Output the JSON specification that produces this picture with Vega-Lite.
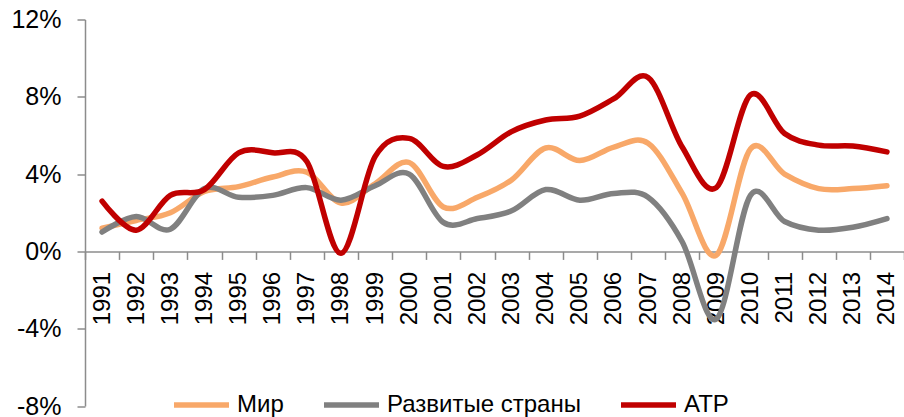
{
  "$schema": "https://vega.github.io/schema/vega-lite/v6.json",
  "width": 819,
  "height": 386.5,
  "autosize": {"type": "none"},
  "padding": {"left": 85, "top": 19.5, "right": 0, "bottom": 11},
  "background": "white",
  "config": {"view": {"stroke": null}, "font": "Liberation Sans"},
  "data": {
    "values": [
      {"year": "1991", "series": "Мир", "value": 1.2},
      {"year": "1992", "series": "Мир", "value": 1.6},
      {"year": "1993", "series": "Мир", "value": 2.0},
      {"year": "1994", "series": "Мир", "value": 3.1},
      {"year": "1995", "series": "Мир", "value": 3.35},
      {"year": "1996", "series": "Мир", "value": 3.85},
      {"year": "1997", "series": "Мир", "value": 4.1},
      {"year": "1998", "series": "Мир", "value": 2.5},
      {"year": "1999", "series": "Мир", "value": 3.5},
      {"year": "2000", "series": "Мир", "value": 4.6},
      {"year": "2001", "series": "Мир", "value": 2.3},
      {"year": "2002", "series": "Мир", "value": 2.8},
      {"year": "2003", "series": "Мир", "value": 3.7},
      {"year": "2004", "series": "Мир", "value": 5.35},
      {"year": "2005", "series": "Мир", "value": 4.7},
      {"year": "2006", "series": "Мир", "value": 5.4},
      {"year": "2007", "series": "Мир", "value": 5.6},
      {"year": "2008", "series": "Мир", "value": 3.0},
      {"year": "2009", "series": "Мир", "value": -0.2},
      {"year": "2010", "series": "Мир", "value": 5.3},
      {"year": "2011", "series": "Мир", "value": 4.0},
      {"year": "2012", "series": "Мир", "value": 3.25},
      {"year": "2013", "series": "Мир", "value": 3.25},
      {"year": "2014", "series": "Мир", "value": 3.4},
      {"year": "1991", "series": "Развитые страны", "value": 1.0},
      {"year": "1992", "series": "Развитые страны", "value": 1.8},
      {"year": "1993", "series": "Развитые страны", "value": 1.15},
      {"year": "1994", "series": "Развитые страны", "value": 3.25},
      {"year": "1995", "series": "Развитые страны", "value": 2.8},
      {"year": "1996", "series": "Развитые страны", "value": 2.9},
      {"year": "1997", "series": "Развитые страны", "value": 3.3},
      {"year": "1998", "series": "Развитые страны", "value": 2.65},
      {"year": "1999", "series": "Развитые страны", "value": 3.4},
      {"year": "2000", "series": "Развитые страны", "value": 4.0},
      {"year": "2001", "series": "Развитые страны", "value": 1.5},
      {"year": "2002", "series": "Развитые страны", "value": 1.7},
      {"year": "2003", "series": "Развитые страны", "value": 2.1},
      {"year": "2004", "series": "Развитые страны", "value": 3.2},
      {"year": "2005", "series": "Развитые страны", "value": 2.65},
      {"year": "2006", "series": "Развитые страны", "value": 3.0},
      {"year": "2007", "series": "Развитые страны", "value": 2.8},
      {"year": "2008", "series": "Развитые страны", "value": 0.5},
      {"year": "2009", "series": "Развитые страны", "value": -3.5},
      {"year": "2010", "series": "Развитые страны", "value": 2.9},
      {"year": "2011", "series": "Развитые страны", "value": 1.55},
      {"year": "2012", "series": "Развитые страны", "value": 1.1},
      {"year": "2013", "series": "Развитые страны", "value": 1.25},
      {"year": "2014", "series": "Развитые страны", "value": 1.7},
      {"year": "1991", "series": "АТР", "value": 2.6},
      {"year": "1992", "series": "АТР", "value": 1.1},
      {"year": "1993", "series": "АТР", "value": 2.9},
      {"year": "1994", "series": "АТР", "value": 3.2},
      {"year": "1995", "series": "АТР", "value": 5.1},
      {"year": "1996", "series": "АТР", "value": 5.1},
      {"year": "1997", "series": "АТР", "value": 4.65},
      {"year": "1998", "series": "АТР", "value": -0.1},
      {"year": "1999", "series": "АТР", "value": 4.9},
      {"year": "2000", "series": "АТР", "value": 5.85},
      {"year": "2001", "series": "АТР", "value": 4.4},
      {"year": "2002", "series": "АТР", "value": 5.0},
      {"year": "2003", "series": "АТР", "value": 6.2},
      {"year": "2004", "series": "АТР", "value": 6.8},
      {"year": "2005", "series": "АТР", "value": 7.0},
      {"year": "2006", "series": "АТР", "value": 7.9},
      {"year": "2007", "series": "АТР", "value": 9.0},
      {"year": "2008", "series": "АТР", "value": 5.4},
      {"year": "2009", "series": "АТР", "value": 3.3},
      {"year": "2010", "series": "АТР", "value": 8.1},
      {"year": "2011", "series": "АТР", "value": 6.1},
      {"year": "2012", "series": "АТР", "value": 5.5},
      {"year": "2013", "series": "АТР", "value": 5.45},
      {"year": "2014", "series": "АТР", "value": 5.15}
    ]
  },
  "mark": {"type": "line", "interpolate": "cardinal", "tension": 0, "strokeWidth": 5.5, "strokeCap": "round", "strokeJoin": "round"},
  "encoding": {
    "x": {
      "field": "year", "type": "ordinal", "sort": null,
      "scale": {"paddingInner": 0, "paddingOuter": 0},
      "axis": {
        "title": null, "offset": -154.6, "labelAngle": 270, "labelFontSize": 24,
        "labelColor": "black", "tickBand": "extent", "tickSize": 8, "labelPadding": 12,
        "domainColor": "#8c8c8c", "tickColor": "#8c8c8c", "domainWidth": 1.5, "tickWidth": 1.5
      }
    },
    "y": {
      "field": "value", "type": "quantitative",
      "scale": {"domain": [-8, 12], "nice": false, "zero": false},
      "axis": {
        "title": null, "values": [-8, -4, 0, 4, 8, 12], "labelExpr": "datum.value + '%'",
        "labelFontSize": 25, "labelColor": "black", "grid": false, "tickSize": 8, "labelPadding": 16,
        "domainColor": "#8c8c8c", "tickColor": "#8c8c8c", "domainWidth": 1.5, "tickWidth": 1.5
      }
    },
    "color": {
      "field": "series", "type": "nominal",
      "scale": {"domain": ["Мир", "Развитые страны", "АТР"], "range": ["#F8A869", "#808080", "#C00000"]},
      "legend": {
        "title": null, "orient": "none", "direction": "horizontal", "legendX": 86, "legendY": 354.7,
        "symbolType": "stroke", "symbolSize": 3025, "symbolStrokeWidth": 5.5,
        "labelFontSize": 24, "labelColor": "black", "labelOffset": 5, "columnPadding": 29,
        "labelLimit": 400
      }
    }
  }
}
